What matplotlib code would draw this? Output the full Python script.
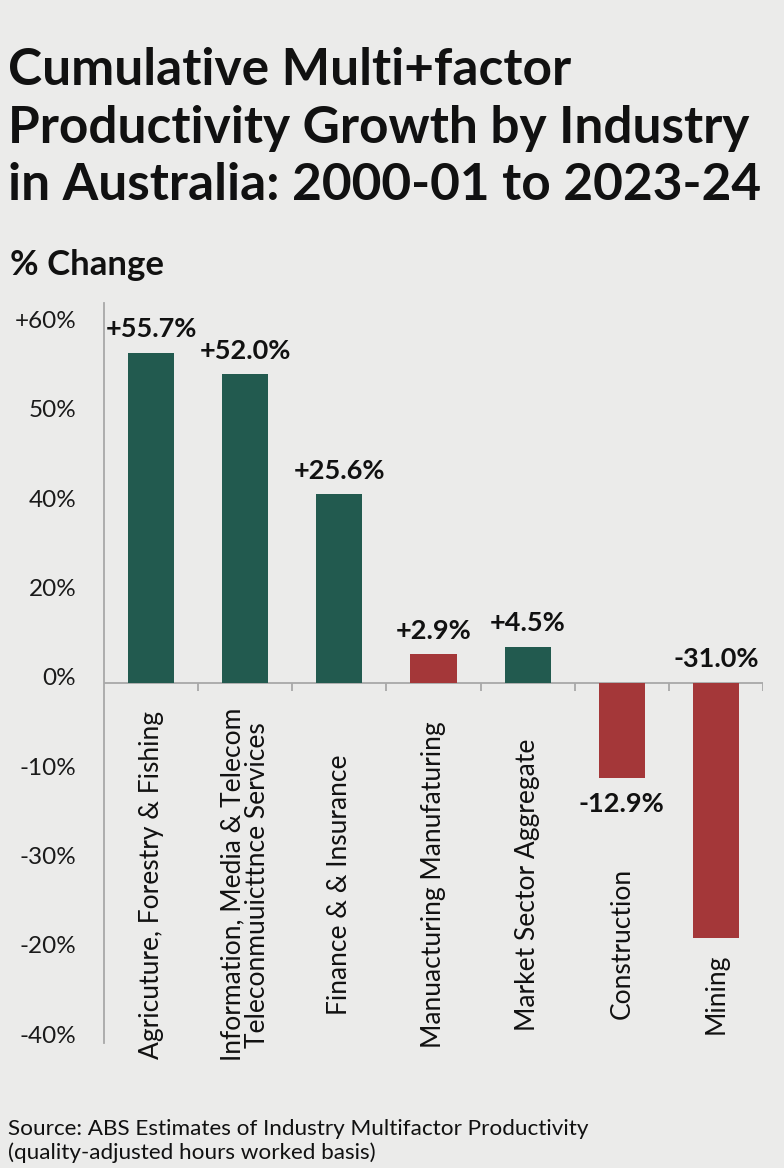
import matplotlib
matplotlib.use("Agg")
import matplotlib.pyplot as plt
import matplotlib.transforms as mtransforms

# categories and the labels printed on the chart
industries = ["Agricuture, Forestry & Fishing",
              "Information, Media & Telecom\nTeleconmuuicttnce Services",
              "Finance & & Insurance",
              "Manuacturing Manufaturing",
              "Market Sector Aggregate",
              "Construction",
              "Mining"]
value_labels = ["+55.7%", "+52.0%", "+25.6%", "+2.9%", "+4.5%", "-12.9%", "-31.0%"]
# bar lengths as drawn, measured in tick steps of the (irregular) y axis
bar_heights = [3.69, 3.45, 2.11, 0.32, 0.40, -1.06, -2.86]
bar_is_gain = [True, True, True, False, True, False, False]

tick_steps = [4, 3, 2, 1, 0, -1, -2, -3, -4]
tick_labels = ["+60%", "50%", "40%", "20%", "0%", "-10%", "-30%", "-20%", "-40%"]

# layout only
label_place = ["above", "above", "above", "above", "above", "below", "zero"]
cat_label_y = [-2.26, -2.26, -2.26, -2.26, -2.26, -2.92, -3.48]

bg = "#ebebea"
green = "#225a4f"
red = "#a43739"
axis_grey = "#a8a8a8"
font = ["Lato", "DejaVu Sans"]
plt.rcParams["font.family"] = font

fig = plt.figure(figsize=(7.84, 11.68), dpi=100, facecolor=bg)
ax = fig.add_axes([104/784, 1 - 1043/1168, (763 - 104)/784, (1043 - 303)/1168])
ax.set_facecolor(bg)

x = list(range(len(industries)))
colors = [green if g else red for g in bar_is_gain]
ax.bar(x, bar_heights, width=0.49, color=colors, zorder=2)

ax.set_xlim(-0.5, len(industries) - 0.5)
ax.set_ylim(-4.03, 4.25)

# zero line with little ticks between categories
ax.axhline(0, color=axis_grey, lw=1.3, zorder=1)
ax.vlines([i + 0.5 for i in x], -0.09, 0, color=axis_grey, lw=1.3)

for s in ["top", "right", "bottom"]:
    ax.spines[s].set_visible(False)
ax.spines["left"].set_color(axis_grey)
ax.spines["left"].set_linewidth(1.3)
ax.set_xticks([])
ax.set_yticks(tick_steps)
ax.set_yticklabels(tick_labels, fontsize=17.5, color="#1a1a1a")
ax.tick_params(axis="y", length=0, pad=20)
shift = mtransforms.ScaledTranslation(0, 6/100, fig.dpi_scale_trans)
for lab in ax.get_yticklabels():
    lab.set_transform(lab.get_transform() + shift)

for i, (h, txt, place) in enumerate(zip(bar_heights, value_labels, label_place)):
    if place == "above":
        y0, off = h, 17
    elif place == "below":
        y0, off = h, -19
    else:
        y0, off = 0, 17
    ax.annotate(txt, (i, y0), xytext=(0, off), textcoords="offset points",
                ha="center", va="center", fontsize=19.5, fontweight="bold",
                color="#111111")

for i, (name, yc) in enumerate(zip(industries, cat_label_y)):
    ax.text(i, yc, name, rotation=90, ha="center", va="center",
            fontsize=19, color="#111111", linespacing=1.0)

fig.text(8/784, 1 - 128/1168, "Cumulative Multi+factor\nProductivity Growth by Industry\nin Australia: 2000-01 to 2023-24",
         ha="left", va="center", fontsize=37, fontweight="bold", color="#111111",
         linespacing=1.27)
fig.text(10/784, 1 - 265/1168, "% Change", ha="left", va="center",
         fontsize=25, fontweight="bold", color="#111111")
fig.text(8/784, 1 - 1141/1168, "Source: ABS Estimates of Industry Multifactor Productivity\n(quality-adjusted hours worked basis)",
         ha="left", va="center", fontsize=16.2, color="#111111", linespacing=1.22)

fig.savefig("out.png", dpi=100, facecolor=bg)
